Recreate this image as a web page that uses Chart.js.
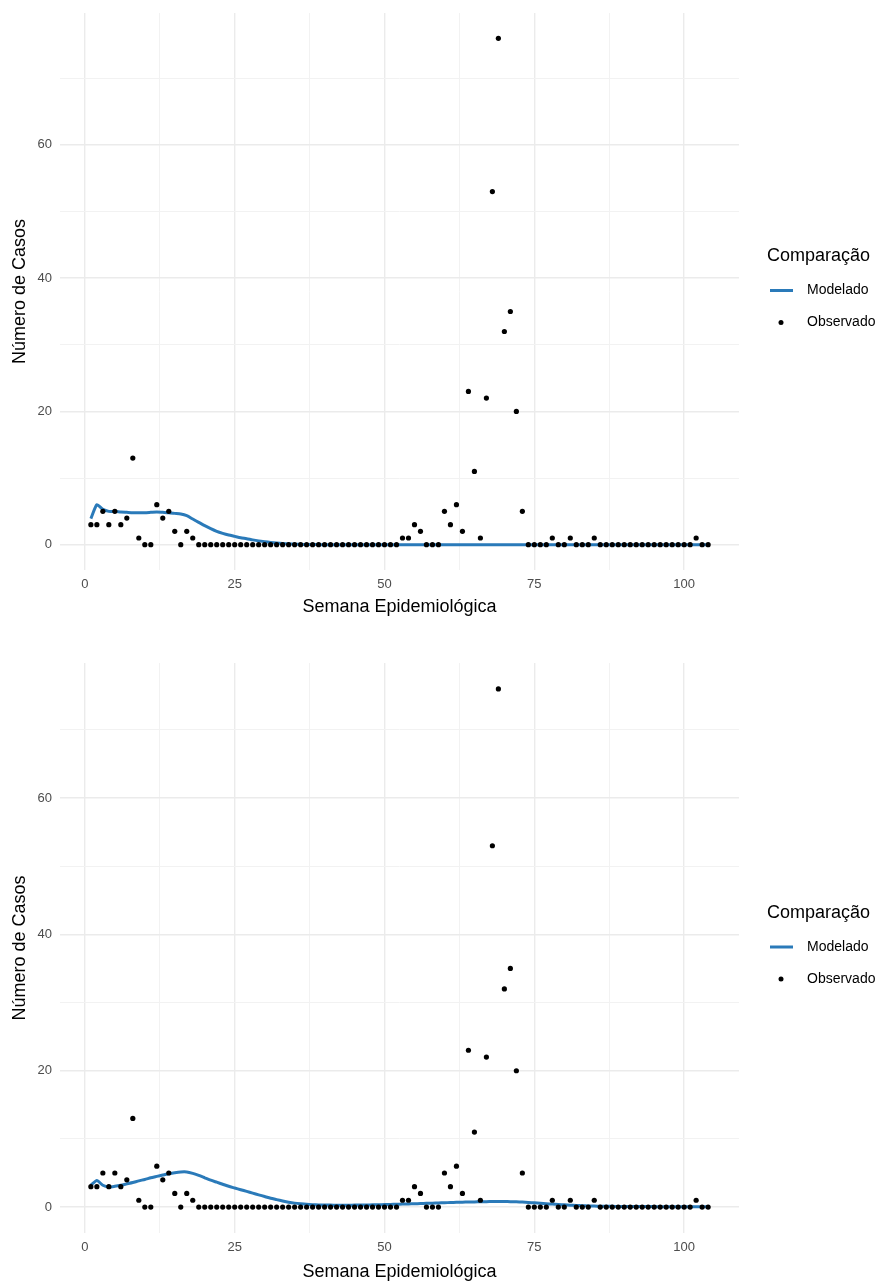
<!DOCTYPE html>
<html lang="pt">
<head>
<meta charset="utf-8">
<title>Casos observados e modelados</title>
<script src="https://cdn.jsdelivr.net/npm/chart.js@4/dist/chart.umd.min.js"></script>
<style>
  html, body { margin: 0; padding: 0; background: #fff; }
  canvas { display: block; }
</style>
</head>
<body>
<canvas id="chartTop" width="877" height="622"></canvas>
<canvas id="chartBottom" width="877" height="661"></canvas>
<script>
// semanas epidemiológicas 1..104
const weeks = Array.from({ length: 104 }, (_, i) => i + 1);

const observed = [
  3, 3, 5, 3, 5, 3, 4, 13, 1, 0,
  0, 6, 4, 5, 2, 0, 2, 1, 0, 0,
  0, 0, 0, 0, 0, 0, 0, 0, 0, 0,
  0, 0, 0, 0, 0, 0, 0, 0, 0, 0,
  0, 0, 0, 0, 0, 0, 0, 0, 0, 0,
  0, 0, 1, 1, 3, 2, 0, 0, 0, 5,
  3, 6, 2, 23, 11, 1, 22, 53, 76, 32,
  35, 20, 5, 0, 0, 0, 0, 1, 0, 0,
  1, 0, 0, 0, 1, 0, 0, 0, 0, 0,
  0, 0, 0, 0, 0, 0, 0, 0, 0, 0,
  0, 1, 0, 0
];

const modelTop = [
  3.9, 6.0, 5.3, 5.0, 5.0, 4.9, 4.85, 4.8, 4.8, 4.8,
  4.85, 4.9, 4.85, 4.8, 4.7, 4.6, 4.35, 3.85, 3.35, 2.85,
  2.4, 2.0, 1.7, 1.45, 1.25, 1.05, 0.9, 0.72, 0.57, 0.45,
  0.34, 0.25, 0.18, 0.12, 0.08, 0.05, 0.03, 0.02, 0.01, 0,
  0, 0, 0, 0, 0, 0, 0, 0, 0, 0,
  0, 0, 0, 0, 0, 0, 0, 0, 0, 0,
  0, 0, 0, 0, 0, 0, 0, 0, 0, 0,
  0, 0, 0, 0, 0, 0, 0, 0, 0, 0,
  0, 0, 0, 0, 0, 0, 0, 0, 0, 0,
  0, 0, 0, 0, 0, 0, 0, 0, 0, 0,
  0, 0, 0, 0
];

const modelBottom = [
  3.2, 3.9, 3.2, 2.95, 3.05, 3.2, 3.4, 3.6, 3.85, 4.05,
  4.3, 4.5, 4.7, 4.9, 5.05, 5.15, 5.15, 4.95, 4.65, 4.3,
  3.95, 3.65, 3.35, 3.05, 2.8, 2.55, 2.3, 2.05, 1.8, 1.55,
  1.3, 1.1, 0.9, 0.72, 0.58, 0.48, 0.4, 0.35, 0.32, 0.3,
  0.29, 0.28, 0.28, 0.28, 0.29, 0.3, 0.31, 0.33, 0.35, 0.37,
  0.39, 0.41, 0.44, 0.46, 0.49, 0.52, 0.55, 0.58, 0.61, 0.64,
  0.67, 0.7, 0.72, 0.74, 0.76, 0.78, 0.8, 0.81, 0.82, 0.82,
  0.8, 0.77, 0.73, 0.68, 0.62, 0.56, 0.5, 0.44, 0.38, 0.33,
  0.28, 0.24, 0.2, 0.17, 0.15, 0.13, 0.12, 0.11, 0.1, 0.09,
  0.08, 0.08, 0.07, 0.07, 0.07, 0.06, 0.06, 0.06, 0.05, 0.05,
  0.05, 0.05, 0.05, 0.05
];

const xTicks = [0, 25, 50, 75, 100];
const xMinor = [12.5, 37.5, 62.5, 87.5];
const yTicks = [0, 20, 40, 60];
const yMinor = [10, 30, 50, 70];

const legendTitle = 'Comparação';
const lineColor = '#2a7ab9';
const FONT = '"Liberation Sans", Arial, Helvetica, sans-serif';

// legenda ao lado do painel, centrada na altura da área do gráfico
const sideLegend = {
  id: 'sideLegend',
  afterDraw(chart) {
    const { ctx, chartArea } = chart;
    const mid = (chartArea.top + chartArea.bottom) / 2;
    const [lineSet, pointSet] = chart.data.datasets;
    ctx.save();
    ctx.textAlign = 'left';
    ctx.textBaseline = 'middle';
    ctx.fillStyle = '#000';
    ctx.font = '18px ' + FONT;
    ctx.fillText(legendTitle, 767, mid - 35);

    ctx.strokeStyle = lineColor;
    ctx.lineWidth = 3;
    ctx.beginPath();
    ctx.moveTo(770, mid - 1);
    ctx.lineTo(793, mid - 1);
    ctx.stroke();

    ctx.beginPath();
    ctx.arc(781, mid + 31, 2.5, 0, Math.PI * 2);
    ctx.fill();

    ctx.font = '14px ' + FONT;
    ctx.fillText(lineSet.label, 807, mid - 1);
    ctx.fillText(pointSet.label, 807, mid + 31);
    ctx.restore();
  }
};

function gridTicks(major, minor) {
  return scale => {
    scale.ticks = major.concat(minor).sort((a, b) => a - b).map(v => ({ value: v }));
  };
}

function makeChart(id, model, opts) {
  return new Chart(document.getElementById(id), {
    type: 'scatter',
    data: {
      datasets: [
        {
          label: 'Modelado',
          data: weeks.map((w, i) => ({ x: w, y: model[i] })),
          showLine: true,
          borderColor: lineColor,
          borderWidth: 3,
          pointRadius: 0,
          tension: 0.2,
          order: 1
        },
        {
          label: 'Observado',
          data: weeks.map((w, i) => ({ x: w, y: observed[i] })),
          backgroundColor: '#000',
          borderColor: '#000',
          pointRadius: 2.6,
          borderWidth: 0,
          order: 0
        }
      ]
    },
    options: {
      responsive: false,
      animation: false,
      devicePixelRatio: 1,
      layout: { autoPadding: false, padding: { top: opts.top, right: 138, left: 0, bottom: 0 } },
      plugins: { legend: { display: false }, tooltip: { enabled: false } },
      scales: {
        x: {
          type: 'linear',
          min: -4.15,
          max: 109.15,
          afterBuildTicks: gridTicks(xTicks, xMinor),
          afterFit: s => { s.height = opts.xHeight; s.paddingLeft = 0; s.paddingRight = 0; },
          border: { display: false },
          grid: {
            drawTicks: false,
            color: c => xTicks.includes(c.tick.value) ? '#ebebeb' : '#f2f2f2',
            lineWidth: c => xTicks.includes(c.tick.value) ? 1.4 : 1
          },
          ticks: {
            autoSkip: false,
            maxRotation: 0,
            padding: 7,
            color: '#4d4d4d',
            font: { family: FONT, size: 13 },
            callback: v => xTicks.includes(v) ? String(v) : ''
          },
          title: {
            display: true,
            text: 'Semana Epidemiológica',
            color: '#000',
            font: { family: FONT, size: 18 },
            padding: { top: 0, bottom: opts.titleBottom }
          }
        },
        y: {
          type: 'linear',
          min: -3.8,
          max: 79.8,
          afterBuildTicks: gridTicks(yTicks, yMinor),
          afterFit: s => { s.width = 60; s.paddingTop = 0; s.paddingBottom = 0; },
          border: { display: false },
          grid: {
            drawTicks: false,
            color: c => yTicks.includes(c.tick.value) ? '#ebebeb' : '#f2f2f2',
            lineWidth: c => yTicks.includes(c.tick.value) ? 1.4 : 1
          },
          ticks: {
            autoSkip: false,
            padding: 8,
            color: '#4d4d4d',
            font: { family: FONT, size: 13 },
            callback: v => yTicks.includes(v) ? String(v) : ''
          },
          title: {
            display: true,
            text: 'Número de Casos',
            color: '#000',
            font: { family: FONT, size: 18 },
            padding: { top: 9, bottom: 0 }
          }
        }
      }
    },
    plugins: [sideLegend]
  });
}

makeChart('chartTop', modelTop, { top: 13, xHeight: 52, titleBottom: 4 });
makeChart('chartBottom', modelBottom, { top: 41, xHeight: 50, titleBottom: 0 });
</script>
</body>
</html>
